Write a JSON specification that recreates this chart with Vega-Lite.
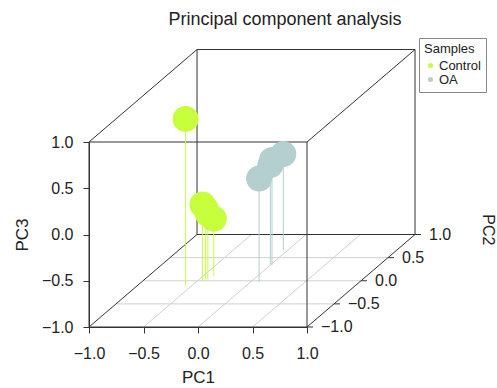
{
  "$schema": "https://vega.github.io/schema/vega-lite/v6.json",
  "width": 218,
  "height": 185,
  "autosize": {"type": "none"},
  "padding": {"left": 89, "top": 142, "right": 190, "bottom": 61},
  "title": {"text": "Principal component analysis", "fontSize": 18, "fontWeight": "normal", "color": "#222", "anchor": "middle", "dx": 87, "offset": 9},
  "datasets": {
    "points": [
      {"Sample": "Control", "PC1": -0.56, "PC2": -0.10, "PC3": 0.80},
      {"Sample": "Control", "PC1": -0.46, "PC2": 0.01, "PC3": -0.18},
      {"Sample": "Control", "PC1": -0.44, "PC2": 0.03, "PC3": -0.24},
      {"Sample": "Control", "PC1": -0.42, "PC2": 0.03, "PC3": -0.29},
      {"Sample": "Control", "PC1": -0.40, "PC2": 0.10, "PC3": -0.38},
      {"Sample": "OA", "PC1": 0.08, "PC2": -0.03, "PC3": 0.12},
      {"Sample": "OA", "PC1": -0.01, "PC2": 0.36, "PC3": 0.07},
      {"Sample": "OA", "PC1": 0.02, "PC2": 0.33, "PC3": 0.14},
      {"Sample": "OA", "PC1": -0.04, "PC2": 0.66, "PC3": 0.04}
    ],
    "edges": [
      {"a1": -1, "b1": -1, "c1": -1, "a2": 1, "b2": -1, "c2": -1},
      {"a1": -1, "b1": -1, "c1": 1, "a2": 1, "b2": -1, "c2": 1},
      {"a1": -1, "b1": -1, "c1": -1, "a2": -1, "b2": -1, "c2": 1},
      {"a1": 1, "b1": -1, "c1": -1, "a2": 1, "b2": -1, "c2": 1},
      {"a1": -1, "b1": 1, "c1": -1, "a2": 1, "b2": 1, "c2": -1},
      {"a1": -1, "b1": 1, "c1": 1, "a2": 1, "b2": 1, "c2": 1},
      {"a1": -1, "b1": 1, "c1": -1, "a2": -1, "b2": 1, "c2": 1},
      {"a1": 1, "b1": 1, "c1": -1, "a2": 1, "b2": 1, "c2": 1},
      {"a1": -1, "b1": -1, "c1": -1, "a2": -1, "b2": 1, "c2": -1},
      {"a1": 1, "b1": -1, "c1": -1, "a2": 1, "b2": 1, "c2": -1},
      {"a1": -1, "b1": -1, "c1": 1, "a2": -1, "b2": 1, "c2": 1},
      {"a1": 1, "b1": -1, "c1": 1, "a2": 1, "b2": 1, "c2": 1}
    ],
    "grid": [
      {"a1": -0.5, "b1": -1, "c1": -1, "a2": -0.5, "b2": 1, "c2": -1},
      {"a1": 0, "b1": -1, "c1": -1, "a2": 0, "b2": 1, "c2": -1},
      {"a1": 0.5, "b1": -1, "c1": -1, "a2": 0.5, "b2": 1, "c2": -1},
      {"a1": -1, "b1": -0.5, "c1": -1, "a2": 1, "b2": -0.5, "c2": -1},
      {"a1": -1, "b1": 0, "c1": -1, "a2": 1, "b2": 0, "c2": -1},
      {"a1": -1, "b1": 0.5, "c1": -1, "a2": 1, "b2": 0.5, "c2": -1}
    ],
    "pc2": [{"v": -1}, {"v": -0.5}, {"v": 0}, {"v": 0.5}, {"v": 1}]
  },
  "config": {
    "view": {"stroke": null},
    "font": "Liberation Sans",
    "axis": {
      "grid": false,
      "domainColor": "#333",
      "tickColor": "#333",
      "labelColor": "#222",
      "titleColor": "#222",
      "labelFontSize": 16,
      "titleFontSize": 17,
      "titleFontWeight": "normal",
      "tickSize": 6,
      "labelPadding": 10,
      "labelFlush": false,
      "labelOverlap": false
    },
    "legend": {
      "orient": "none", "legendX": 330, "legendY": -104,
      "strokeColor": "#888", "fillColor": "white", "padding": 5,
      "titleFontSize": 13, "titleFontWeight": "normal", "titleColor": "#222",
      "labelFontSize": 13, "labelColor": "#222", "symbolSize": 25,
      "symbolType": "circle", "symbolStrokeWidth": 0, "rowPadding": 0,
      "labelOffset": 2, "titlePadding": 3, "cornerRadius": 0
    }
  },
  "layer": [
    {
      "data": {"name": "grid"},
      "transform": [
        {"calculate": "datum.a1 + 0.4955 * (datum.b1 + 1)", "as": "sx1"},
        {"calculate": "datum.c1 + 0.5 * (datum.b1 + 1)", "as": "sy1"},
        {"calculate": "datum.a2 + 0.4955 * (datum.b2 + 1)", "as": "sx2"},
        {"calculate": "datum.c2 + 0.5 * (datum.b2 + 1)", "as": "sy2"}
      ],
      "mark": {"type": "rule", "color": "#d0d0d0", "strokeWidth": 1},
      "encoding": {
        "x": {"field": "sx1", "type": "quantitative", "title": "PC1", "scale": {"domain": [-1, 1], "nice": false, "zero": false},
              "axis": {"title": "PC1", "values": [-1, -0.5, 0, 0.5, 1], "format": ".1f", "labelPadding": 12, "titlePadding": 8}},
        "y": {"field": "sy1", "type": "quantitative", "title": "PC3", "scale": {"domain": [-1, 1], "nice": false, "zero": false},
              "axis": {"title": "PC3", "values": [-1, -0.5, 0, 0.5, 1], "format": ".1f", "titlePadding": 10}},
        "x2": {"field": "sx2"},
        "y2": {"field": "sy2"}
      }
    },
    {
      "data": {"name": "edges"},
      "transform": [
        {"calculate": "datum.a1 + 0.4955 * (datum.b1 + 1)", "as": "sx1"},
        {"calculate": "datum.c1 + 0.5 * (datum.b1 + 1)", "as": "sy1"},
        {"calculate": "datum.a2 + 0.4955 * (datum.b2 + 1)", "as": "sx2"},
        {"calculate": "datum.c2 + 0.5 * (datum.b2 + 1)", "as": "sy2"}
      ],
      "mark": {"type": "rule", "color": "#333", "strokeWidth": 1},
      "encoding": {
        "x": {"field": "sx1", "type": "quantitative", "title": "PC1", "scale": {"domain": [-1, 1], "nice": false, "zero": false},
              "axis": {"title": "PC1", "values": [-1, -0.5, 0, 0.5, 1], "format": ".1f", "labelPadding": 12, "titlePadding": 8}},
        "y": {"field": "sy1", "type": "quantitative", "title": "PC3", "scale": {"domain": [-1, 1], "nice": false, "zero": false},
              "axis": {"title": "PC3", "values": [-1, -0.5, 0, 0.5, 1], "format": ".1f", "titlePadding": 10}},
        "x2": {"field": "sx2"},
        "y2": {"field": "sy2"}
      }
    },
    {
      "data": {"name": "points"},
      "transform": [
        {"calculate": "datum.PC1 + 0.4955 * (datum.PC2 + 1)", "as": "sx"},
        {"calculate": "datum.PC3 + 0.5 * (datum.PC2 + 1)", "as": "sy"},
        {"calculate": "-1 + 0.5 * (datum.PC2 + 1)", "as": "sy0"}
      ],
      "mark": {"type": "rule", "strokeWidth": 1, "opacity": 1},
      "encoding": {
        "x": {"field": "sx", "type": "quantitative", "title": "PC1", "scale": {"domain": [-1, 1], "nice": false, "zero": false},
              "axis": {"title": "PC1", "values": [-1, -0.5, 0, 0.5, 1], "format": ".1f", "labelPadding": 12, "titlePadding": 8}},
        "y": {"field": "sy", "type": "quantitative", "title": "PC3", "scale": {"domain": [-1, 1], "nice": false, "zero": false},
              "axis": {"title": "PC3", "values": [-1, -0.5, 0, 0.5, 1], "format": ".1f", "titlePadding": 10}},
        "y2": {"field": "sy0"},
        "color": {"field": "Sample", "type": "nominal", "title": "Samples",
                  "scale": {"domain": ["Control", "OA"], "range": ["#c8ff3c", "#b3cfcf"]}}
      }
    },
    {
      "data": {"name": "points"},
      "transform": [
        {"calculate": "datum.PC1 + 0.4955 * (datum.PC2 + 1)", "as": "sx"},
        {"calculate": "datum.PC3 + 0.5 * (datum.PC2 + 1)", "as": "sy"}
      ],
      "mark": {"type": "point", "filled": true, "opacity": 1, "size": 676, "shape": "circle"},
      "encoding": {
        "x": {"field": "sx", "type": "quantitative", "title": "PC1", "scale": {"domain": [-1, 1], "nice": false, "zero": false},
              "axis": {"title": "PC1", "values": [-1, -0.5, 0, 0.5, 1], "format": ".1f", "labelPadding": 12, "titlePadding": 8}},
        "y": {"field": "sy", "type": "quantitative", "title": "PC3", "scale": {"domain": [-1, 1], "nice": false, "zero": false},
              "axis": {"title": "PC3", "values": [-1, -0.5, 0, 0.5, 1], "format": ".1f", "titlePadding": 10}},
        "color": {"field": "Sample", "type": "nominal", "title": "Samples",
                  "scale": {"domain": ["Control", "OA"], "range": ["#c8ff3c", "#b3cfcf"]}}
      }
    },
    {
      "data": {"name": "pc2"},
      "transform": [
        {"calculate": "1 + 0.4955 * (datum.v + 1)", "as": "sx"},
        {"calculate": "-1 + 0.5 * (datum.v + 1)", "as": "sy"}
      ],
      "mark": {"type": "rule", "color": "#333", "strokeWidth": 1, "x2Offset": 6},
      "encoding": {
        "x": {"field": "sx", "type": "quantitative", "title": "PC1", "scale": {"domain": [-1, 1], "nice": false, "zero": false},
              "axis": {"title": "PC1", "values": [-1, -0.5, 0, 0.5, 1], "format": ".1f", "labelPadding": 12, "titlePadding": 8}},
        "x2": {"field": "sx"},
        "y": {"field": "sy", "type": "quantitative", "title": "PC3", "scale": {"domain": [-1, 1], "nice": false, "zero": false},
              "axis": {"title": "PC3", "values": [-1, -0.5, 0, 0.5, 1], "format": ".1f", "titlePadding": 10}}
      }
    },
    {
      "data": {"name": "pc2"},
      "transform": [
        {"calculate": "1 + 0.4955 * (datum.v + 1)", "as": "sx"},
        {"calculate": "-1 + 0.5 * (datum.v + 1)", "as": "sy"}
      ],
      "mark": {"type": "text", "align": "left", "baseline": "middle", "dx": 14, "fontSize": 16, "color": "#222"},
      "encoding": {
        "x": {"field": "sx", "type": "quantitative", "title": "PC1", "scale": {"domain": [-1, 1], "nice": false, "zero": false},
              "axis": {"title": "PC1", "values": [-1, -0.5, 0, 0.5, 1], "format": ".1f", "labelPadding": 12, "titlePadding": 8}},
        "y": {"field": "sy", "type": "quantitative", "title": "PC3", "scale": {"domain": [-1, 1], "nice": false, "zero": false},
              "axis": {"title": "PC3", "values": [-1, -0.5, 0, 0.5, 1], "format": ".1f", "titlePadding": 10}},
        "text": {"field": "v", "type": "quantitative", "format": ".1f"}
      }
    },
    {
      "data": {"values": [{"label": "PC2", "sx": 2.665, "sy": 0.05}]},
      "mark": {"type": "text", "angle": 90, "align": "center", "baseline": "middle", "fontSize": 16, "color": "#222"},
      "encoding": {
        "x": {"field": "sx", "type": "quantitative", "title": "PC1", "scale": {"domain": [-1, 1], "nice": false, "zero": false},
              "axis": {"title": "PC1", "values": [-1, -0.5, 0, 0.5, 1], "format": ".1f", "labelPadding": 12, "titlePadding": 8}},
        "y": {"field": "sy", "type": "quantitative", "title": "PC3", "scale": {"domain": [-1, 1], "nice": false, "zero": false},
              "axis": {"title": "PC3", "values": [-1, -0.5, 0, 0.5, 1], "format": ".1f", "titlePadding": 10}},
        "text": {"field": "label", "type": "nominal"}
      }
    }
  ]
}
